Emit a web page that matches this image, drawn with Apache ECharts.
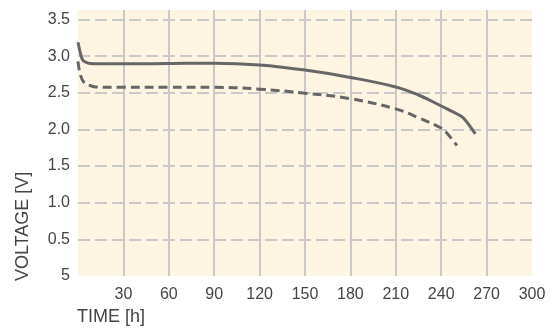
<!DOCTYPE html>
<html><head><meta charset="utf-8">
<script src="https://cdn.jsdelivr.net/npm/echarts@6/dist/echarts.min.js"></script>
<style>html,body{margin:0;padding:0;background:#fff}#c{width:554px;height:330px}</style>
</head><body><div id="c"></div>
<script>
// Data
var xTicks = [30, 60, 90, 120, 150, 180, 210, 240, 270, 300];
var yTicks = ['5', '0.5', '1.0', '1.5', '2.0', '2.5', '3.0', '3.5'];
var solidTime = [0, 1.5, 3, 5, 8, 15, 30, 60, 90, 120, 150, 180, 210, 225, 240, 251.5, 255, 262.5];
var solidVolt = [3.19, 3.05, 2.95, 2.92, 2.9, 2.895, 2.895, 2.9, 2.905, 2.88, 2.81, 2.71, 2.58, 2.47, 2.32, 2.2, 2.15, 1.94];
var dashTime = [0, 1.5, 4.3, 8, 12, 30, 60, 90, 120, 150, 180, 210, 225, 240, 243, 250.4];
var dashVolt = [2.93, 2.75, 2.63, 2.6, 2.58, 2.575, 2.575, 2.575, 2.55, 2.495, 2.42, 2.28, 2.16, 2.02, 1.97, 1.78];

function pairs(xs, ys) { return xs.map(function (x, i) { return [x, ys[i]]; }); }

var chart = echarts.init(document.getElementById('c'), null, { renderer: 'canvas' });
var font = '"Liberation Sans", Arial, sans-serif';
chart.setOption({
  animation: false,
  backgroundColor: '#ffffff',
  grid: { left: 78, right: 22, top: 10, bottom: 54, show: true, backgroundColor: '#fdf5e1', borderWidth: 0 },
  xAxis: {
    type: 'value', min: 0, max: 300, interval: 30,
    axisLine: { show: false }, axisTick: { show: false },
    axisLabel: { color: '#444', fontSize: 16, fontFamily: font, margin: 11,
      formatter: function (v) { return xTicks.indexOf(v) >= 0 ? String(v) : ''; } },
    splitLine: { show: true, showMinLine: false, showMaxLine: false, lineStyle: { color: '#c9c9c9', width: 2, type: 'solid' } }
  },
  yAxis: {
    type: 'value', min: 0, max: 3.63, interval: 0.5,
    axisLine: { show: false }, axisTick: { show: false },
    axisLabel: { color: '#444', fontSize: 16, fontFamily: font, margin: 8, showMaxLabel: false,
      formatter: function (v) { var i = Math.round(v / 0.5); return Math.abs(v - i * 0.5) < 1e-6 && i < yTicks.length ? yTicks[i] : ''; } },
    splitLine: { show: true, showMinLine: false, showMaxLine: false, lineStyle: { color: '#c9c9c9', width: 2, type: [12, 5] } }
  },
  graphic: [
    { type: 'text', left: 77, top: 308, style: { text: 'TIME [h]', font: '18px ' + font, fill: '#444' } },
    { type: 'text', x: 14, y: 281, rotation: Math.PI / 2, style: { text: 'VOLTAGE [V]', font: '18px ' + font, fill: '#444', textAlign: 'left', textVerticalAlign: 'top' } }
  ],
  series: [
    { type: 'line', data: pairs(solidTime, solidVolt), smooth: 0.4, symbol: 'none',
      lineStyle: { color: '#666666', width: 3 } },
    { type: 'line', data: pairs(dashTime, dashVolt), smooth: 0.4, symbol: 'none',
      lineStyle: { color: '#666666', width: 3, type: [9, 5] } }
  ]
});
</script></body></html>
